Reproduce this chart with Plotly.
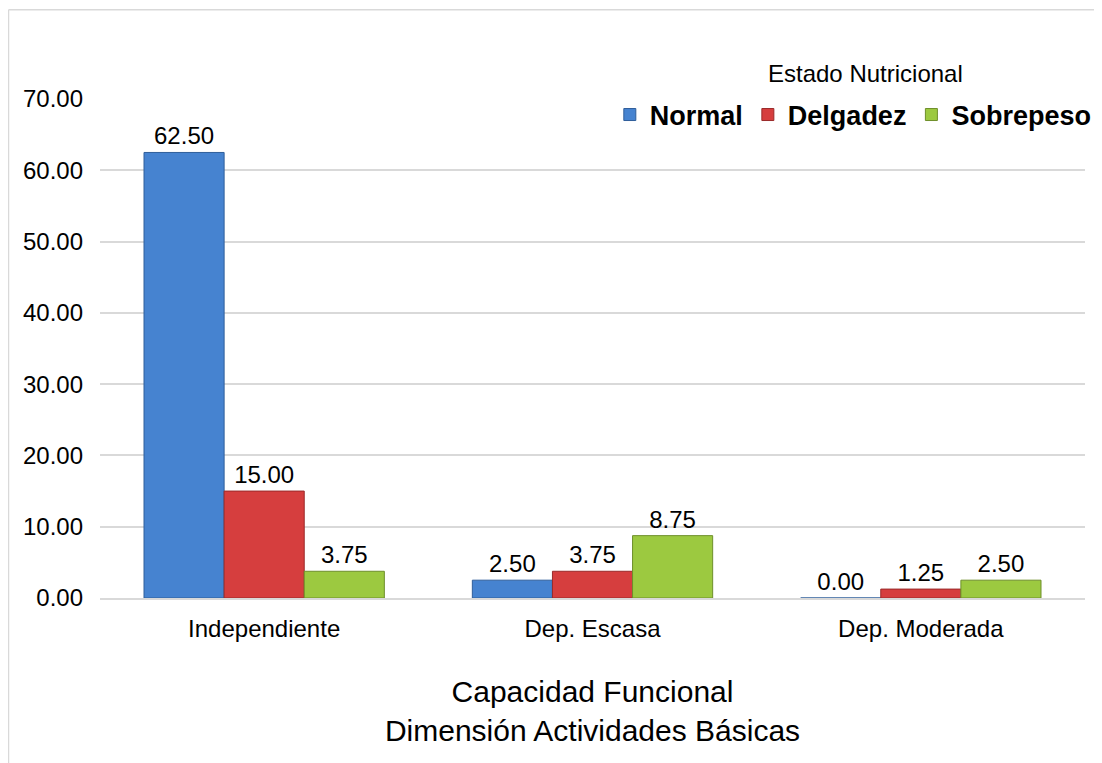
import plotly.graph_objects as go

categories = ["Independiente", "Dep. Escasa", "Dep. Moderada"]
normal = [62.50, 2.50, 0.00]
delgadez = [15.00, 3.75, 1.25]
sobrepeso = [3.75, 8.75, 2.50]
series_names = ["Normal", "Delgadez", "Sobrepeso"]
y_ticks = [0, 10, 20, 30, 40, 50, 60, 70]

colors = ["#4683D0", "#D63E3E", "#9CC940"]
edges = ["#2F5E9A", "#9A2A2A", "#6E8F2A"]
FONT = "Liberation Sans, Arial"

fig = go.Figure()
for name, vals, c, e in zip(series_names, [normal, delgadez, sobrepeso], colors, edges):
    fig.add_trace(go.Bar(
        x=categories, y=vals, name=name,
        marker=dict(color=c, line=dict(color=e, width=1)),
        texttemplate="%{y:.2f}", textposition="outside",
        textfont=dict(family=FONT, size=24, color="#000000"),
        cliponaxis=False,
    ))

fig.update_layout(
    width=1094, height=755,
    margin=dict(l=92, r=17, t=91, b=165, autoexpand=False),
    paper_bgcolor="white", plot_bgcolor="white",
    font=dict(family=FONT, size=24, color="#000000"),
    barmode="group", bargap=0.268, bargroupgap=0,
    showlegend=True,
    legend=dict(orientation="h", x=1.012, xanchor="right", y=0.968, yanchor="middle",
                font=dict(family=FONT, size=27, color="#000000", weight="bold"),
                bgcolor="rgba(0,0,0,0)", tracegroupgap=0),
    xaxis=dict(showgrid=False, showline=True, linecolor="#D9D9D9", linewidth=1.5,
               ticks="", ticklabelstandoff=8, tickfont=dict(size=24),
               title=dict(text="Capacidad Funcional<br>Dimensión Actividades Básicas",
                          font=dict(size=30), standoff=40)),
    yaxis=dict(range=[0, 70], tickvals=y_ticks, tickformat=".2f", tickfont=dict(size=24),
               showgrid=True, gridcolor="#D9D9D9", gridwidth=1.5, zeroline=False,
               showline=False, ticklabelstandoff=16),
    annotations=[dict(text="Estado Nutricional", xref="paper", yref="paper",
                      x=0.777, y=1.052, xanchor="center", yanchor="middle",
                      showarrow=False, font=dict(size=24, color="#000000"))],
    shapes=[
        dict(type="line", xref="paper", yref="paper", x0=-0.0929, x1=-0.0929, y0=1.179, y1=-0.4,
             line=dict(color="#D9D9D9", width=1.5)),
        dict(type="line", xref="paper", yref="paper", x0=-0.0929, x1=1.1, y0=1.179, y1=1.179,
             line=dict(color="#D9D9D9", width=1.5)),
    ],
)

fig.write_html("out.html")
